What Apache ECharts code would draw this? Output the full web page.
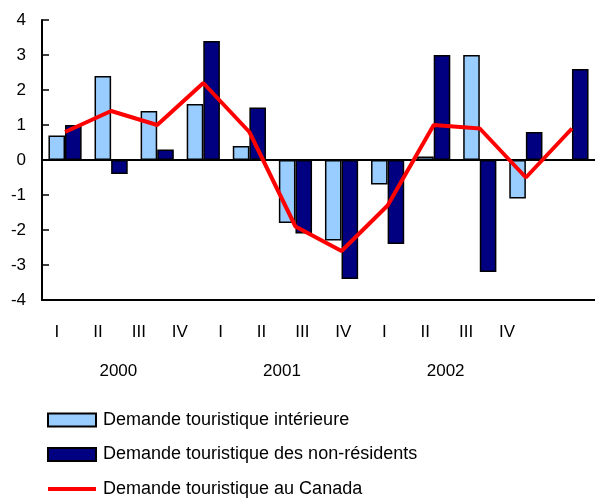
<!DOCTYPE html>
<html>
<head>
<meta charset="utf-8">
<script src="https://cdn.jsdelivr.net/npm/echarts@6/dist/echarts.min.js"></script>
<style>
  html, body { margin: 0; padding: 0; background: #fff; }
  #chart { width: 595px; height: 500px; }
</style>
</head>
<body>
<div id="chart"></div>
<script>
// quarters and years (two-level axis)
const quarters = ['I', 'II', 'III', 'IV', 'I', 'II', 'III', 'IV', 'I', 'II', 'III', 'IV'];
const years = ['2000', '2001', '2002'];

// percentage change per quarter
const interieure = [0.7, 2.4, 1.4, 1.6, 0.4, -1.8, -2.3, -0.7, 0.1, 3.0, -1.1, 0.0];
const nonResidents = [1.0, -0.4, 0.3, 3.4, 1.5, -2.1, -3.4, -2.4, 3.0, -3.2, 0.8, 2.6];
const auCanada = [0.8, 1.4, 1.0, 2.2, 0.8, -1.9, -2.6, -1.3, 1.0, 0.9, -0.5, 0.9];

const seriesNames = [
  'Demande touristique intérieure',
  'Demande touristique des non-résidents',
  'Demande touristique au Canada'
];

const font = "'Liberation Sans', Arial, sans-serif";

const chart = echarts.init(document.getElementById('chart'));

const option = {
  animation: false,
  textStyle: { fontFamily: font, color: '#000' },
  grid: [
    { left: 42, right: -3, top: 20, bottom: 200 },
    // label-only grid, the original puts the quarter labels on a narrower spread
    { left: 36.5, right: 67.5, top: 20, bottom: 200 }
  ],
  legend: {
    orient: 'vertical',
    left: 47,
    top: 411,
    height: 120,
    padding: 0,
    itemWidth: 48,
    itemHeight: 13,
    itemGap: 16.5,
    textStyle: { fontFamily: font, fontSize: 18, color: '#000', padding: [0, 0, 0, 2] },
    data: [
      { name: seriesNames[0], icon: 'rect' },
      { name: seriesNames[1], icon: 'rect' },
      { name: seriesNames[2], icon: 'path://M0,0H48V4H0Z', itemStyle: { color: '#FF0000', borderWidth: 0 } }
    ]
  },
  xAxis: [
    {
      type: 'category',
      gridIndex: 0,
      data: quarters,
      axisLine: { onZero: false, lineStyle: { color: '#000', width: 2 } },
      axisTick: { inside: true, length: 6, lineStyle: { color: '#000', width: 1 } },
      axisLabel: { show: false },
      splitLine: { show: false }
    },
    {
      // top border of the plot area
      type: 'category',
      gridIndex: 0,
      position: 'top',
      data: quarters,
      axisLine: { lineStyle: { color: '#000', width: 2 } },
      axisTick: { show: false },
      axisLabel: { show: false }
    },
    {
      type: 'category',
      gridIndex: 1,
      data: quarters,
      axisLine: { show: false },
      axisTick: { show: false },
      axisLabel: { fontFamily: font, fontSize: 17, color: '#000', margin: 24 }
    },
    {
      type: 'category',
      gridIndex: 1,
      position: 'bottom',
      data: years,
      axisLine: { show: false },
      axisTick: { show: false },
      axisLabel: { fontFamily: font, fontSize: 17, color: '#000', margin: 63 }
    }
  ],
  yAxis: [
    {
      type: 'value',
      gridIndex: 0,
      min: -4,
      max: 4,
      interval: 1,
      axisLine: { show: true, lineStyle: { color: '#000', width: 2 } },
      axisTick: { show: true, inside: true, length: 7, lineStyle: { color: '#000', width: 1.5 } },
      axisLabel: { fontFamily: font, fontSize: 17, color: '#000', margin: 16 },
      splitLine: { show: false }
    },
    {
      type: 'value',
      gridIndex: 1,
      min: -4,
      max: 4,
      show: false
    }
  ],
  series: [
    {
      name: seriesNames[0],
      type: 'bar',
      xAxisIndex: 0,
      yAxisIndex: 0,
      data: interieure,
      barGap: '0%',
      barCategoryGap: '28%',
      itemStyle: { color: '#99CCFF', borderColor: '#000', borderWidth: 1.5 },
      markLine: {
        silent: true,
        symbol: 'none',
        label: { show: false },
        lineStyle: { color: '#000', width: 1, type: 'solid' },
        data: [{ yAxis: 0 }]
      }
    },
    {
      name: seriesNames[1],
      type: 'bar',
      xAxisIndex: 0,
      yAxisIndex: 0,
      data: nonResidents,
      itemStyle: { color: '#000080', borderColor: '#000', borderWidth: 1.5 }
    },
    {
      name: seriesNames[2],
      type: 'line',
      xAxisIndex: 0,
      yAxisIndex: 0,
      data: auCanada,
      symbol: 'none',
      z: 5,
      lineStyle: { color: '#FF0000', width: 4 },
      itemStyle: { color: '#FF0000' }
    }
  ]
};

chart.setOption(option);
</script>
</body>
</html>
